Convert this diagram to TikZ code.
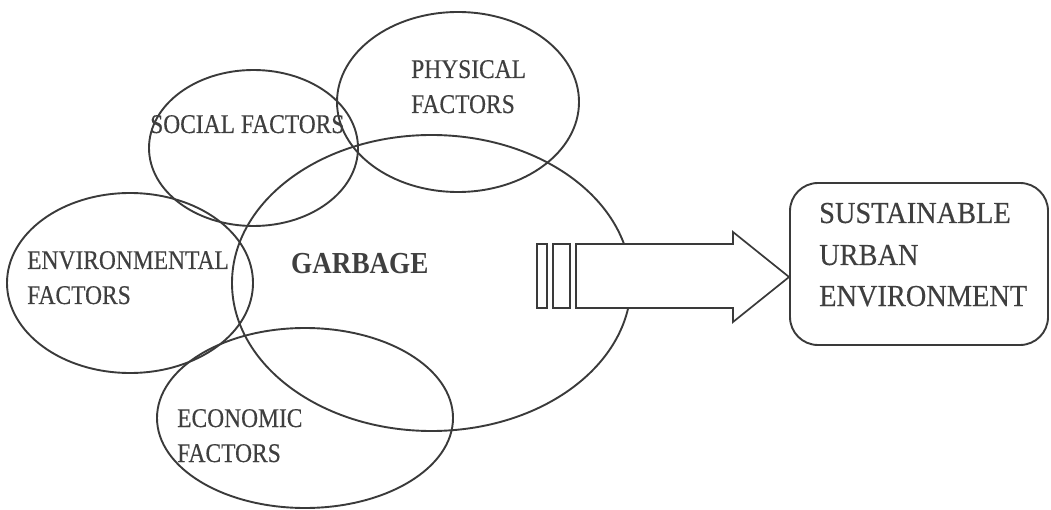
\documentclass[tikz,border=0pt]{standalone}
\usepackage{fontspec}
\setmainfont{Liberation Serif}[FakeStretch=0.87, FakeBold=0.35]
\newfontfamily\boxfont{Liberation Serif}[FakeStretch=0.93, FakeBold=0.35]
\newfontfamily\garbfont{Liberation Serif}[FakeStretch=0.89]
\usetikzlibrary{shapes.geometric}
\definecolor{ink}{HTML}{3A3A3A}
\definecolor{txt}{HTML}{3F3F3F}
\begin{document}
\begin{tikzpicture}[x=1pt,y=-1pt,
  ring/.style={draw=ink, line width=1.9pt, ellipse, inner sep=0pt},
  lbl/.style={anchor=base west, inner sep=0pt, text=txt, font=\fontsize{27}{32}\selectfont},
  biglbl/.style={lbl, font=\boxfont\fontsize{30.5}{36}\selectfont},
  boldlbl/.style={lbl, font=\garbfont\fontsize{30.5}{36}\selectfont\bfseries},
  outline/.style={draw=ink, line width=1.7pt, fill=white, line join=miter}]
\useasboundingbox (0,0) rectangle (1051,510);

% the five overlapping factor rings
\node[ring, minimum width=242pt, minimum height=180pt] (phy) at (458,102) {};
\node[ring, minimum width=209pt, minimum height=156pt] (soc) at (253.5,148) {};
\node[ring, minimum width=399pt, minimum height=296pt] (garb) at (431.5,283) {};
\node[ring, minimum width=246pt, minimum height=180pt] (env) at (130,283) {};
\node[ring, minimum width=296pt, minimum height=180pt] (eco) at (305,418) {};

% labels
\node[lbl] (phy1) at (411,78) {PHYSICAL};
\node[lbl] (phy2) at (411,113) {FACTORS};
\node[lbl] (soc1) at (150,133) {SOCIAL FACTORS};
\node[lbl] (env1) at (27,269) {ENVIRONMENTAL};
\node[lbl] (env2) at (27,304) {FACTORS};
\node[lbl] (eco1) at (177,427) {ECONOMIC};
\node[lbl] (eco2) at (177,462) {FACTORS};
\node[boldlbl] (garbtxt) at (291,274) {GARBAGE};

% goal box
\node[draw=ink, line width=1.9pt, rounded corners=28pt,
      minimum width=258pt, minimum height=162pt, inner sep=0pt] (sue) at (919,264) {};
\node[biglbl] (sue1) at (819,223) {SUSTAINABLE};
\node[biglbl] (sue2) at (819,265) {URBAN};
\node[biglbl] (sue3) at (819,306) {ENVIRONMENT};

% striped block arrow from the garbage ring to the goal box
\coordinate (tip) at (sue.west |- 0,277);
\draw[outline] (537,244) rectangle (547,308);
\draw[outline] (553,244) rectangle (570,308);
\draw[outline] (576,244) -- (733,244) -- (733,232) -- (tip)
   -- (733,322) -- (733,308) -- (576,308) -- cycle;
\end{tikzpicture}
\end{document}
